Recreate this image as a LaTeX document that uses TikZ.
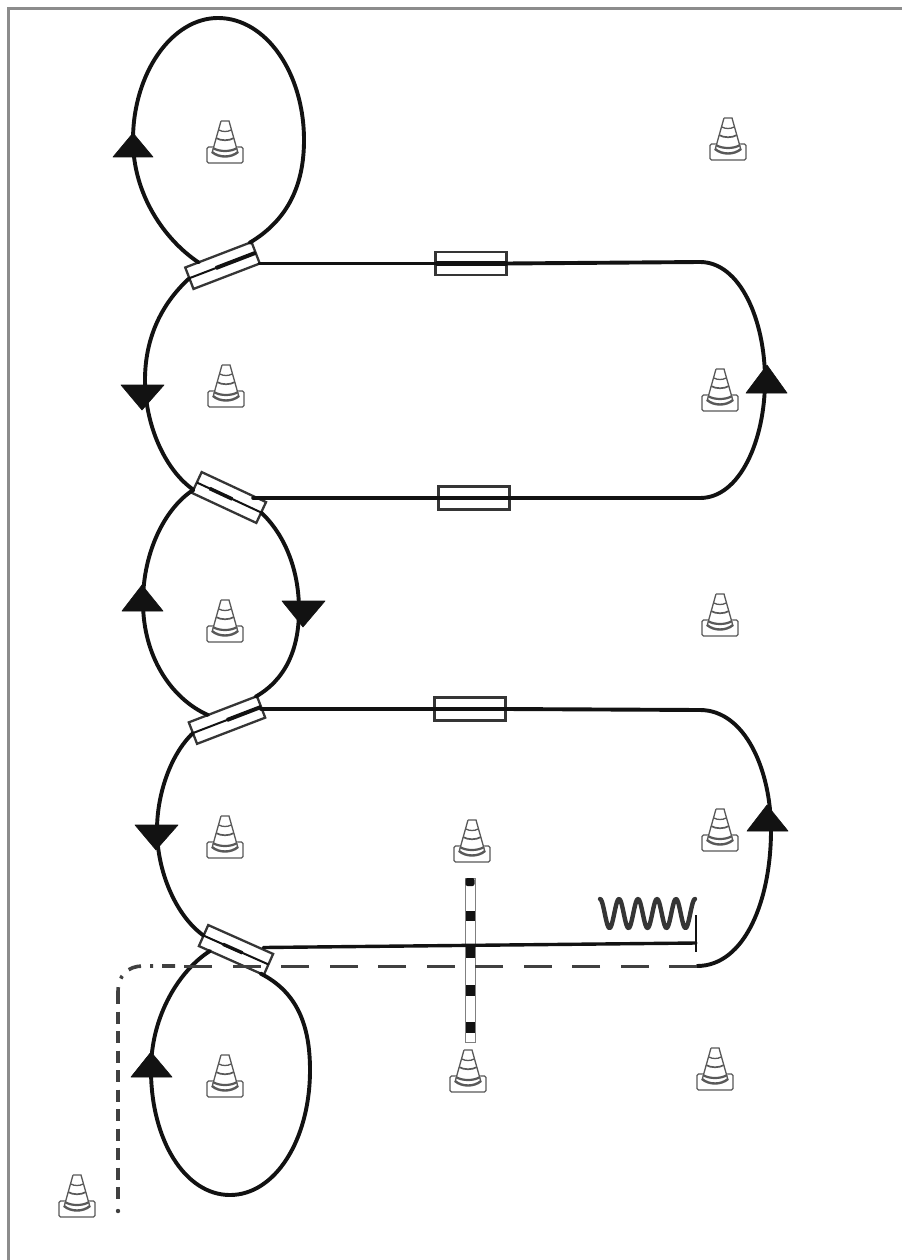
\documentclass[tikz,border=0pt]{standalone}
\usetikzlibrary{calc}
\definecolor{ink}{gray}{0.07}
\definecolor{framecol}{gray}{0.55}
\definecolor{dashcol}{gray}{0.25}
\tikzset{
  x=1pt,y=-1pt,
  track/.style={draw=ink,line width=3.9pt,line cap=round},
  thinline/.style={draw=ink,line width=3.4pt,line cap=round},
  gate/.style={draw=ink!85,line width=2.3pt,fill=white,rectangle,minimum width=71pt,minimum height=23pt,inner sep=0pt,outer sep=0pt},
  core/.style={draw=ink,line width=4.6pt},
  hair/.style={draw=ink,line width=2pt},
  head/.style={fill=ink,draw=ink,line width=.6pt,line join=round},
  coneline/.style={draw=black!65,line width=1.3pt},
  pics/cone/.style={code={
    \draw[coneline,rounded corners=1.5pt,fill=white] (-18,-16) rectangle (18,0);
    \fill[white] (-6,-43) -- (6,-43) -- (14,-8) -- (-14,-8) -- cycle;
    \draw[coneline] (-4,-42) -- (4,-42) -- (13,-10) (-4,-42) -- (-13,-10);
    \draw[coneline,line width=1.3pt] (-6,-33) .. controls (-3,-31) and (3,-31) .. (6,-33);
    \draw[coneline,line width=1.7pt] (-9,-25) .. controls (-4,-22) and (4,-22) .. (9,-25);
    \draw[coneline,line width=2.2pt] (-12,-15) .. controls (-6,-11) and (6,-11) .. (12,-15);
    \draw[coneline,line width=2.4pt] (-13,-11) .. controls (-6,-5) and (6,-5) .. (13,-11);
  }}
}
\begin{document}
\begin{tikzpicture}
\useasboundingbox (0,0) rectangle (902,1260);
\fill[white] (0,0) rectangle (902,1260);
% frame
\draw[framecol,line width=3pt] (8.5,1260) -- (8.5,9) -- (902,9);
% gates
\node[gate,rotate=21] (g1) at (222.5,265.5) {};
\node[gate,rotate=-25] (g2) at (229,497.5) {};
\node[gate,rotate=21,minimum width=73pt] (g3) at (227,720) {};
\node[gate,rotate=-24] (g4) at (236,950) {};
\node[gate] (h1) at (471,263.5) {};
\node[gate] (h2) at (474,498) {};
\node[gate] (h3) at (470,709) {};
\foreach \g in {g1,g2,g3,g4} {\draw[hair] (\g.west) -- (\g.east);}
\draw[core] (h1.west) -- (h1.east);
\draw[core] (h2.west) -- (h2.east);
\draw[core] (h3.west) -- (h3.east);
\draw[core,line width=4pt] ($(g1.west)!.4!(g1.east)$) -- (g1.east);
\draw[core,line width=3.6pt] ($(g2.west)!.2!(g2.east)$) -- ($(g2.west)!.55!(g2.east)$);
\draw[core,line width=4pt] ($(g3.west)!.5!(g3.east)$) -- (g3.east);
\draw[core,line width=3.4pt] ($(g4.west)!.3!(g4.east)$) -- ($(g4.west)!.6!(g4.east)$);
% free points on the gates
\coordinate (a1) at ($(g1.north west)!.2!(g1.north east)$);
\coordinate (a2) at ($(g1.north west)!.97!(g1.north east)$);
\coordinate (a3) at (g1.south east |- h1.west);
\coordinate (b2) at ($(g2.north west)!.8!(g2.north east)$);
\coordinate (b3) at (b2 |- h2.west);
\coordinate (b4) at ($(g2.west)!.7!(g2.south west)$);
\coordinate (c1) at ($(g3.north west)!.28!(g3.north east)$);
\coordinate (c2) at ($(g3.north west)!.98!(g3.north east)$);
\coordinate (c3) at (g3.east |- h3.west);
\coordinate (d1) at ($(g4.south west)!.17!(g4.south east)$);
\coordinate (d2) at ($(g4.south west)!.95!(g4.south east)$);
\coordinate (d3) at ($(g4.north west)!.85!(g4.north east)$);
\coordinate (d4) at (d3 |- 0,947.5);
\coordinate (sp) at (696,943);
% loops
\draw[track] (a1) .. controls (165,240) and (133,195) .. (133,140)
  .. controls (133,73) and (172,18) .. (218,18)
  .. controls (266,18) and (304,73) .. (304,140)
  .. controls (304,185) and (288,220) .. (a2);
\draw[track] (a3) -- (h1.west);
\draw[track] (h1.east) -- (700,262)
  .. controls (740,262) and (765,320) .. (765,380)
  .. controls (765,440) and (740,498) .. (700,498) -- (h2.east);
\draw[track] (h2.west) -- (b3);
\draw[track] (g1.west) .. controls (160,305) and (145,340) .. (145,380)
  .. controls (145,425) and (165,470) .. (b4);
\draw[track] (b4) .. controls (165,508) and (143,552) .. (143,602)
  .. controls (143,655) and (170,698) .. (c1);
\draw[track] (g2.east) .. controls (285,535) and (299,570) .. (299,610)
  .. controls (299,650) and (285,680) .. (c2);
\draw[track] (c3) -- (h3.west);
\draw[track] (h3.east) -- (700,710)
  .. controls (745,710) and (771,770) .. (771,830)
  .. controls (771,900) and (745,966) .. (697,966);
\draw[track] (g3.west) .. controls (170,755) and (157,795) .. (157,830)
  .. controls (157,870) and (175,915) .. (g4.west);
\draw[track] (d1) .. controls (180,970) and (151,1015) .. (151,1070)
  .. controls (151,1140) and (185,1195) .. (230,1195)
  .. controls (275,1195) and (310,1140) .. (310,1070)
  .. controls (310,1025) and (297,992) .. (d2);
\draw[draw=ink,line width=2.2pt] (696,915) -- (696,952);
% spring
\draw[draw=ink!85,line width=4.4pt,line cap=round,line join=round,domain=0:95,samples=120,smooth]
  plot (600+\x,{913.5-14.5*cos(18.947*\x)});
% pole
\draw[draw=black!50,line width=1pt,fill=white] (465,878) rectangle (475,1042);
\fill[ink,rounded corners=2pt] (465.5,878) rectangle (474.5,886);
\fill[ink] (465.5,911) rectangle (474.5,921);
\fill[ink] (465.5,945) rectangle (474.5,958);
\fill[ink] (465.5,985) rectangle (474.5,996);
\fill[ink] (465.5,1022) rectangle (474.5,1033);
\draw[thinline] (d4) -- (sp);
% dashed run
\draw[dashcol,line width=3.8pt,dash pattern=on 28pt off 20.5pt] (697,966.5) -- (184,966.5);
\draw[dashcol,line width=3.6pt,dash pattern=on 13pt off 9pt on 3pt off 9pt] (175,966) -- (143,966) .. controls (128,966) and (118,975) .. (118,992);
\draw[dashcol,line width=3.8pt,dash pattern=on 12pt off 7.5pt] (118,992) -- (118,1204);
\fill[dashcol] (118,1211) circle (2.2pt);
% arrowheads
\draw[head] (133,133) -- (153,157) -- (113,157) -- cycle;
\draw[head] (142,410) -- (164,385) -- (121,385) -- cycle;
\draw[head] (767,365) -- (787,393) -- (746,393) -- cycle;
\draw[head] (142,585) -- (163,611) -- (122,611) -- cycle;
\draw[head] (303,627) -- (325,601) -- (282,601) -- cycle;
\draw[head] (156,850) -- (178,825) -- (135,825) -- cycle;
\draw[head] (767,805) -- (788,831) -- (747,831) -- cycle;
\draw[head] (151,1052) -- (172,1077) -- (131,1077) -- cycle;
% cones
\foreach \p in {(225,163),(728,160),(226,407),(720,411),(225,642),(720,636),(225,858),(472,862),(720,851),(225,1097),(468,1092),(715,1090),(77,1217)} {
  \pic at \p {cone};
}
\end{tikzpicture}
\end{document}
